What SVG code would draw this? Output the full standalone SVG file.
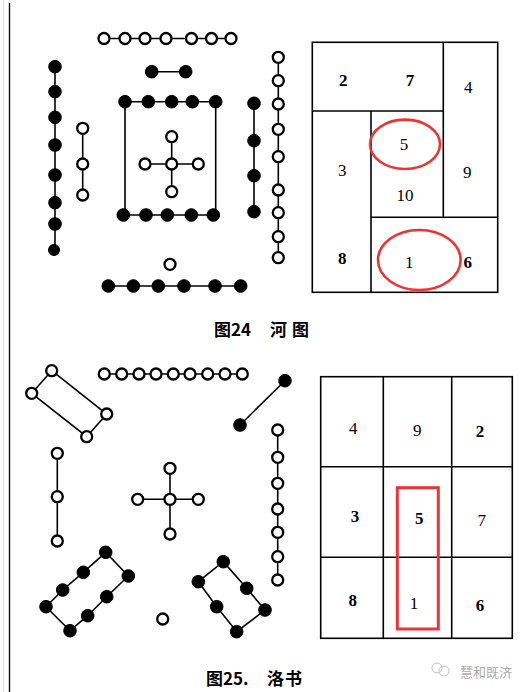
<svg xmlns="http://www.w3.org/2000/svg" width="528" height="692" viewBox="0 0 528 692">
<style>
.w{fill:#fff;stroke:#000;stroke-width:2.3}
.b{fill:#000;stroke:#000;stroke-width:1}
.ln{stroke:#000;stroke-width:1.6;fill:none}
.grid{stroke:#000;stroke-width:1.6;fill:none}
.num{font-family:"Liberation Serif","DejaVu Serif",serif;font-size:17px;fill:#000;text-anchor:middle}
.bd{font-weight:bold}
.red{stroke:#ee3333;stroke-width:2.6;fill:none}
.cap{font-family:"Noto Sans CJK SC","Liberation Serif",serif;font-size:17px;font-weight:bold;fill:#000}
</style>
<rect width="528" height="692" fill="#fff"/>
<line x1="3.5" y1="0" x2="3.5" y2="692" stroke="#ddd" stroke-width="1"/>
<line x1="9.5" y1="3" x2="9.5" y2="692" stroke="#111" stroke-width="1.4"/>

<!-- connectors -->
<g id="connectors" class="ln">
<!-- Hetu -->
<line x1="104" y1="38.5" x2="231" y2="38.5"/>
<line x1="151.7" y1="71.7" x2="185.7" y2="71.7"/>
<polyline points="125,215 125,101.7 215.7,101.7 215.7,215 123.3,215"/>
<line x1="171.7" y1="136.7" x2="171.7" y2="191.7"/>
<line x1="145" y1="164" x2="198.3" y2="164"/>
<line x1="55" y1="66.7" x2="55" y2="250"/>
<line x1="82.7" y1="128.3" x2="82.7" y2="195"/>
<line x1="254" y1="103.3" x2="254" y2="211.7"/>
<line x1="278.3" y1="57.3" x2="278.3" y2="257.7"/>
<line x1="108.3" y1="286" x2="240.7" y2="286"/>
<!-- Luoshu -->
<polygon points="51.7,370.7 31.7,393.3 86.7,436.7 106.7,414"/>
<line x1="104.3" y1="374" x2="242.3" y2="374"/>
<line x1="285" y1="380.7" x2="240" y2="425"/>
<line x1="57.3" y1="453.3" x2="57.3" y2="541"/>
<line x1="170" y1="468.3" x2="170" y2="534"/>
<line x1="137.7" y1="499.3" x2="198.3" y2="499.3"/>
<line x1="277.7" y1="430" x2="277.7" y2="580"/>
<polygon points="105.7,552.3 83.3,572.3 62.7,590 46,606.7 70,630.7 87.7,615.7 106.7,596.7 128.3,576"/>
<polygon points="223.3,561.7 198.3,581.7 216.7,606.7 236.7,631.7 265,610 246.7,588.3"/>
</g>

<!-- Hetu nodes -->
<g id="hetu-top7">
<circle class="w" cx="104" cy="38.5" r="5.5"/><circle class="w" cx="125" cy="38.5" r="5.5"/><circle class="w" cx="145" cy="38.5" r="5.5"/><circle class="w" cx="166" cy="38.5" r="5.5"/><circle class="w" cx="191.5" cy="38.5" r="5.5"/><circle class="w" cx="211.5" cy="38.5" r="5.5"/><circle class="w" cx="231" cy="38.5" r="5.5"/>
</g>
<g id="hetu-top2">
<circle class="b" cx="151.7" cy="71.7" r="6.3"/><circle class="b" cx="185.7" cy="71.7" r="6.3"/>
</g>
<g id="hetu-center10">
<circle class="b" cx="125" cy="101.7" r="6.3"/><circle class="b" cx="148.3" cy="101.7" r="6.3"/><circle class="b" cx="171.7" cy="101.7" r="6.3"/><circle class="b" cx="192.3" cy="101.7" r="6.3"/><circle class="b" cx="215.7" cy="101.7" r="6.3"/>
<circle class="b" cx="123.3" cy="215" r="6.3"/><circle class="b" cx="146" cy="215" r="6.3"/><circle class="b" cx="167.3" cy="215" r="6.3"/><circle class="b" cx="191.3" cy="215" r="6.3"/><circle class="b" cx="213.3" cy="215" r="6.3"/>
</g>
<g id="hetu-center5">
<circle class="w" cx="171.7" cy="164" r="5.5"/><circle class="w" cx="171.7" cy="136.7" r="5.5"/><circle class="w" cx="171.7" cy="191.7" r="5.5"/><circle class="w" cx="145" cy="164" r="5.5"/><circle class="w" cx="198.3" cy="164" r="5.5"/>
</g>
<g id="hetu-left8">
<circle class="b" cx="55" cy="66.7" r="6.3"/><circle class="b" cx="55" cy="91.7" r="6.3"/><circle class="b" cx="55" cy="117.3" r="6.3"/><circle class="b" cx="55" cy="145" r="6.3"/><circle class="b" cx="55" cy="175" r="6.3"/><circle class="b" cx="55" cy="202.7" r="6.3"/><circle class="b" cx="55" cy="224" r="6.3"/><circle class="b" cx="54" cy="250" r="5.5"/>
</g>
<g id="hetu-left3">
<circle class="w" cx="82.7" cy="128.3" r="5.5"/><circle class="w" cx="82.7" cy="164" r="5.5"/><circle class="w" cx="82.7" cy="195" r="5.5"/>
</g>
<g id="hetu-right4">
<circle class="b" cx="254" cy="103.3" r="6.3"/><circle class="b" cx="254" cy="140.7" r="6.3"/><circle class="b" cx="254" cy="175.7" r="6.3"/><circle class="b" cx="254" cy="211.7" r="6.3"/>
</g>
<g id="hetu-right9">
<circle class="w" cx="278.3" cy="57.3" r="5.5"/><circle class="w" cx="278.3" cy="80.7" r="5.5"/><circle class="w" cx="278.3" cy="104" r="5.5"/><circle class="w" cx="278.3" cy="129.3" r="5.5"/><circle class="w" cx="278.3" cy="156.7" r="5.5"/><circle class="w" cx="278.3" cy="190" r="5.5"/><circle class="w" cx="278.3" cy="212.7" r="5.5"/><circle class="w" cx="278.3" cy="236.7" r="5.5"/><circle class="w" cx="278.3" cy="257.7" r="5.5"/>
</g>
<g id="hetu-bottom1">
<circle class="w" cx="170" cy="264.3" r="5.5"/>
</g>
<g id="hetu-bottom6">
<circle class="b" cx="108.3" cy="286" r="6.3"/><circle class="b" cx="133.3" cy="286" r="6.3"/><circle class="b" cx="158.3" cy="286" r="6.3"/><circle class="b" cx="184" cy="286" r="6.3"/><circle class="b" cx="215" cy="286" r="6.3"/><circle class="b" cx="240.7" cy="286" r="6.3"/>
</g>

<!-- Hetu grid -->
<g id="hetu-grid">
<rect class="grid" x="312.3" y="42.3" width="185.4" height="250"/>
<line class="grid" x1="443.3" y1="42.3" x2="443.3" y2="217.3"/>
<line class="grid" x1="312.3" y1="111" x2="443.3" y2="111"/>
<line class="grid" x1="371" y1="111" x2="371" y2="292.3"/>
<line class="grid" x1="371" y1="217.3" x2="497.7" y2="217.3"/>
<text class="num bd" x="343.3" y="86">2</text>
<text class="num bd" x="410" y="86">7</text>
<text class="num" x="468.3" y="92.5">4</text>
<text class="num" x="404" y="149.5">5</text>
<text class="num" x="342.3" y="176">3</text>
<text class="num" x="467.3" y="177.5">9</text>
<text class="num" x="405" y="201">10</text>
<text class="num bd" x="342.3" y="263.5">8</text>
<text class="num" x="409.3" y="267.5">1</text>
<text class="num bd" x="467.7" y="267.5">6</text>
<ellipse class="red" cx="405" cy="144.3" rx="35" ry="24.7"/>
<ellipse class="red" cx="419.3" cy="260" rx="41.3" ry="30"/>
</g>
<g id="caption24">
<text class="cap" x="214" y="336">图24</text>
<text class="cap" x="270" y="336" letter-spacing="5">河图</text>
</g>

<!-- Luoshu nodes -->
<g id="luo-topleft4">
<circle class="w" cx="51.7" cy="370.7" r="5.5"/><circle class="w" cx="31.7" cy="393.3" r="5.5"/><circle class="w" cx="106.7" cy="414" r="5.5"/><circle class="w" cx="86.7" cy="436.7" r="5.5"/>
</g>
<g id="luo-top9">
<circle class="w" cx="104.3" cy="374" r="5.5"/><circle class="w" cx="121.7" cy="374" r="5.5"/><circle class="w" cx="139" cy="374" r="5.5"/><circle class="w" cx="156" cy="374" r="5.5"/><circle class="w" cx="173.3" cy="374" r="5.5"/><circle class="w" cx="190" cy="374" r="5.5"/><circle class="w" cx="207.7" cy="374" r="5.5"/><circle class="w" cx="225" cy="374" r="5.5"/><circle class="w" cx="242.3" cy="374" r="5.5"/>
</g>
<g id="luo-topright2">
<circle class="b" cx="285" cy="380.7" r="6.3"/><circle class="b" cx="240" cy="425" r="6.3"/>
</g>
<g id="luo-left3">
<circle class="w" cx="57.3" cy="453.3" r="5.5"/><circle class="w" cx="57.3" cy="496.7" r="5.5"/><circle class="w" cx="57.3" cy="541" r="5.5"/>
</g>
<g id="luo-center5">
<circle class="w" cx="170" cy="499.3" r="5.5"/><circle class="w" cx="170" cy="468.3" r="5.5"/><circle class="w" cx="170" cy="534" r="5.5"/><circle class="w" cx="137.7" cy="499.3" r="5.5"/><circle class="w" cx="198.3" cy="499.3" r="5.5"/>
</g>
<g id="luo-right7">
<circle class="w" cx="277.7" cy="430" r="5.5"/><circle class="w" cx="277.7" cy="457.3" r="5.5"/><circle class="w" cx="277.7" cy="483.3" r="5.5"/><circle class="w" cx="277.7" cy="509" r="5.5"/><circle class="w" cx="277.7" cy="532.3" r="5.5"/><circle class="w" cx="277.7" cy="556.7" r="5.5"/><circle class="w" cx="277.7" cy="580" r="5.5"/>
</g>
<g id="luo-bottomleft8">
<circle class="b" cx="105.7" cy="552.3" r="6.3"/><circle class="b" cx="83.3" cy="572.3" r="6.3"/><circle class="b" cx="62.7" cy="590" r="6.3"/><circle class="b" cx="46" cy="606.7" r="6.3"/><circle class="b" cx="70" cy="630.7" r="6.3"/><circle class="b" cx="87.7" cy="615.7" r="6.3"/><circle class="b" cx="106.7" cy="596.7" r="6.3"/><circle class="b" cx="128.3" cy="576" r="6.3"/>
</g>
<g id="luo-bottom1">
<circle class="w" cx="162.7" cy="619" r="5.5"/>
</g>
<g id="luo-bottomright6">
<circle class="b" cx="223.3" cy="561.7" r="6.3"/><circle class="b" cx="198.3" cy="581.7" r="6.3"/><circle class="b" cx="216.7" cy="606.7" r="6.3"/><circle class="b" cx="236.7" cy="631.7" r="6.3"/><circle class="b" cx="265" cy="610" r="6.3"/><circle class="b" cx="246.7" cy="588.3" r="6.3"/>
</g>

<!-- Luoshu grid -->
<g id="luo-grid">
<rect class="grid" x="320.7" y="376.7" width="191.6" height="261.6"/>
<line class="grid" x1="383.3" y1="376.7" x2="383.3" y2="638.3"/>
<line class="grid" x1="451.7" y1="376.7" x2="451.7" y2="638.3"/>
<line class="grid" x1="320.7" y1="466.7" x2="512.3" y2="466.7"/>
<line class="grid" x1="320.7" y1="557.3" x2="512.3" y2="557.3"/>
<text class="num" x="353.3" y="433.5">4</text>
<text class="num" x="417.3" y="436">9</text>
<text class="num bd" x="480" y="436.5">2</text>
<text class="num bd" x="355" y="521.5">3</text>
<text class="num bd" x="419.3" y="523.5">5</text>
<text class="num" x="481.7" y="526">7</text>
<text class="num bd" x="352.7" y="606">8</text>
<text class="num" x="414" y="608.5">1</text>
<text class="num bd" x="480" y="611">6</text>
<rect x="397.3" y="487.7" width="41" height="141.3" fill="none" stroke="#ee3333" stroke-width="3"/>
</g>
<g id="caption25">
<text class="cap" x="206" y="685">图25.</text>
<text class="cap" x="267" y="685" letter-spacing="1">洛书</text>
</g>
<g id="watermark" fill="none" stroke="#c4c4c4" stroke-width="1">
<circle cx="437" cy="668" r="5"/>
<circle cx="444" cy="671" r="5"/>
<text x="460" y="677" font-family="Noto Sans CJK SC,sans-serif" font-size="13" fill="#aaa" stroke="none">慧和既济</text>
</g>
</svg>
